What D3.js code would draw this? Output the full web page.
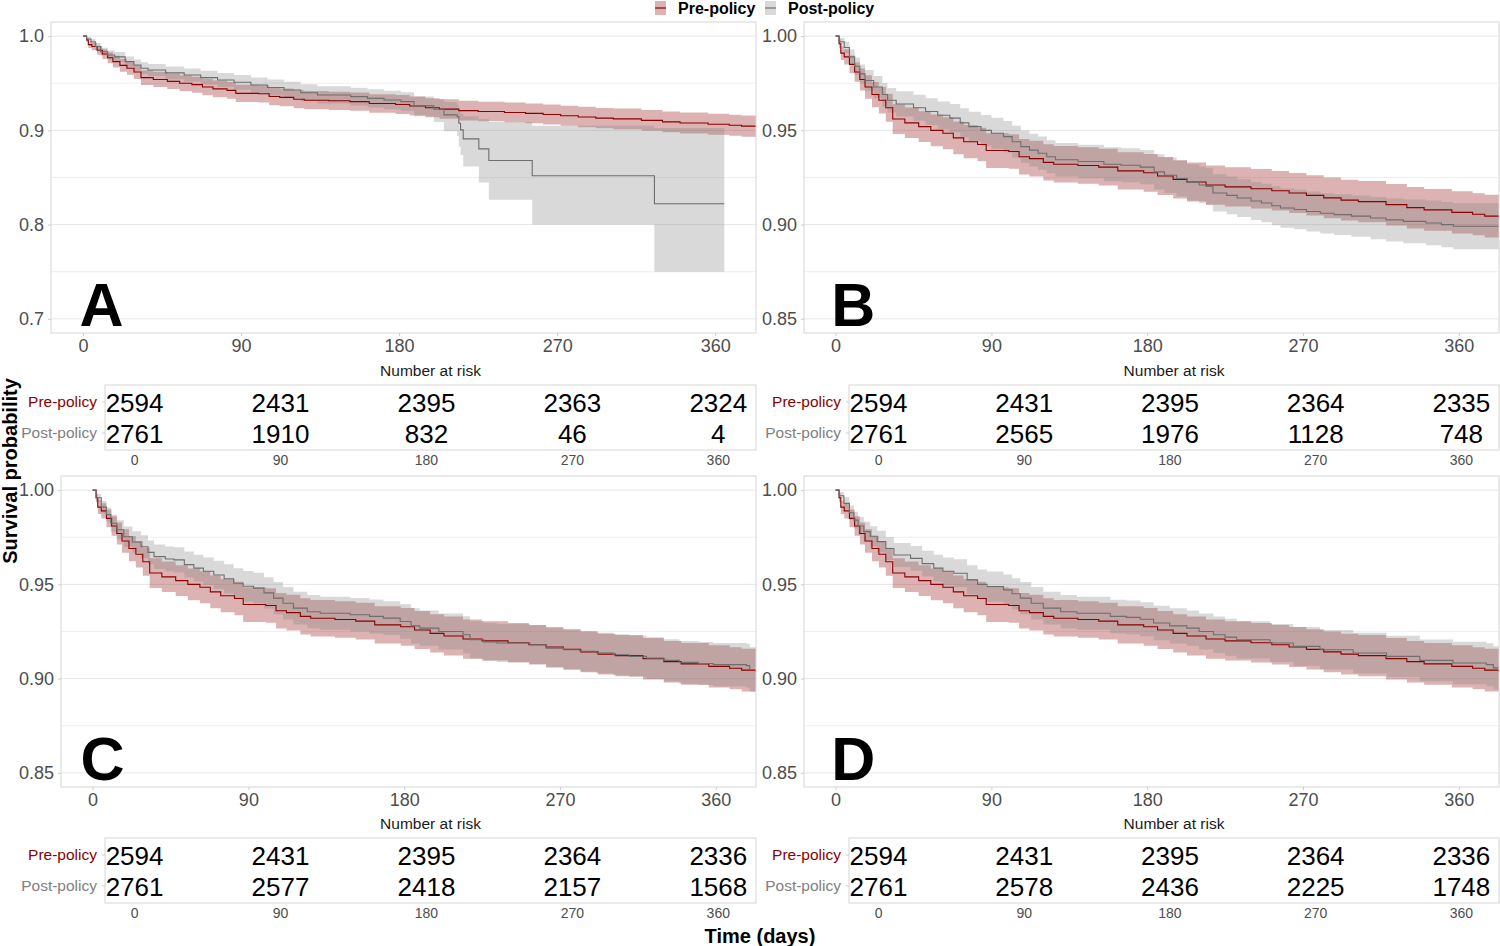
<!DOCTYPE html>
<html><head><meta charset="utf-8">
<script src="https://cdn.jsdelivr.net/npm/d3@7"></script>
<style>
body{margin:0;background:#fff}
svg{display:block}
text{font-family:"Liberation Sans",Arial,Helvetica,sans-serif}
</style>
</head><body>
<svg id="chart" width="1500" height="946"></svg>
<script>
// ---------------- DATA ----------------
const groups = ["Pre-policy", "Post-policy"];
const panelLetters = ["A", "B", "C", "D"];
const timeTicks = [0, 90, 180, 270, 360];
const yTicksA = [0.7, 0.8, 0.9, 1.0];
const yTicksBCD = [0.85, 0.90, 0.95, 1.00];

// Pre-policy KM estimate (identical cohort in all four panels)
const preDays  = [0,2,3,5,8,11,14,17,21,25,29,33,40,48,55,62,68,74,82,87,100,106,112,120,126,140,152,163,178,186,195,203,214,225,240,252,262,272,282,292,302,318,330,340,356,368,375,383.25];
const preSurv  = [1,0.996,0.991,0.989,0.985,0.981,0.977,0.973,0.969,0.966,0.962,0.956,0.954,0.952,0.950,0.9485,0.946,0.944,0.9425,0.9393,0.9388,0.936,0.935,0.933,0.932,0.9314,0.9305,0.9285,0.9275,0.9258,0.924,0.9226,0.921,0.920,0.919,0.918,0.9168,0.9155,0.9142,0.913,0.9122,0.9106,0.909,0.9078,0.9065,0.9055,0.9045,0.9035];
const preLower = [1,0.9936,0.9874,0.985,0.9803,0.9758,0.9712,0.9668,0.9623,0.959,0.9546,0.9481,0.9459,0.9438,0.9416,0.940,0.9373,0.9352,0.9336,0.9301,0.9296,0.9266,0.9255,0.9234,0.9223,0.9217,0.9207,0.9186,0.9175,0.9157,0.9138,0.9123,0.9106,0.9096,0.9085,0.9075,0.9062,0.9048,0.9034,0.9022,0.9013,0.8996,0.898,0.8967,0.8953,0.8943,0.8932,0.8922];
const preUpper = [1,0.9984,0.9946,0.993,0.9897,0.9862,0.9828,0.9792,0.9757,0.973,0.9694,0.9639,0.9621,0.9602,0.9584,0.957,0.9547,0.9528,0.9514,0.9485,0.948,0.9454,0.9445,0.9426,0.9417,0.9411,0.9403,0.9384,0.9375,0.9359,0.9342,0.9329,0.9314,0.9304,0.9295,0.9285,0.9274,0.9262,0.925,0.9238,0.9231,0.9216,0.920,0.9189,0.9177,0.9167,0.9158,0.9148];

// Post-policy, panel A
const postADays  = [0,2,4.5,7,10,14,18,24,29,33,37,47,57.6,67,76.6,86,95.6,105,114.5,124,133.5,152.4,162,171.4,181,188.5,199.8,205.5,213.1,214,215,216.5,225.4,231.1,255.8,325.4,365.2];
const postASurv  = [1,0.997,0.994,0.989,0.9834,0.980,0.978,0.973,0.9693,0.966,0.964,0.961,0.9587,0.956,0.9534,0.951,0.9481,0.9455,0.9429,0.940,0.9376,0.9358,0.934,0.9323,0.9305,0.926,0.9224,0.9164,0.9146,0.9076,0.9005,0.891,0.8804,0.868,0.8519,0.8222,0.8222];
const postALower = [1,0.995,0.991,0.9852,0.9792,0.9752,0.9728,0.9675,0.9635,0.9598,0.9576,0.9543,0.9518,0.9488,0.9459,0.9432,0.940,0.9371,0.9342,0.931,0.9284,0.9264,0.9244,0.9225,0.9205,0.915,0.909,0.899,0.894,0.883,0.874,0.8617,0.8448,0.8265,0.800,0.750,0.750];
const postAUpper = [1,0.999,0.997,0.9928,0.9876,0.9848,0.9832,0.9785,0.9751,0.9722,0.9704,0.9677,0.9656,0.9632,0.9609,0.9588,0.9562,0.9539,0.9516,0.949,0.9468,0.9452,0.9436,0.9421,0.9405,0.936,0.933,0.930,0.927,0.922,0.918,0.915,0.912,0.909,0.905,0.9025,0.9025];

// Post-policy, panel B
const postBDays  = [0,2,5,8,11,14,17,22,27,30,35,45,52,59,66,72,77,84,90,97,102,107,112,117,122,127,140,155,165,176,184,190,197,203,210,214,218,226,232,240,246,252,257,265,272,280,288,298,309,318,328,341,350,357,383.25];
const postBSurv  = [1,0.997,0.994,0.989,0.984,0.980,0.9765,0.973,0.969,0.966,0.964,0.962,0.960,0.958,0.9565,0.954,0.952,0.950,0.9485,0.9467,0.944,0.9414,0.9395,0.9379,0.936,0.9344,0.9335,0.932,0.9315,0.9305,0.928,0.9262,0.9245,0.9224,0.921,0.9203,0.9168,0.9155,0.9141,0.9125,0.9115,0.910,0.9088,0.908,0.907,0.906,0.9053,0.9045,0.9035,0.9025,0.9017,0.9009,0.900,0.8991,0.899];
const postBLower = [1,0.995,0.991,0.9851,0.9794,0.975,0.971,0.9672,0.9628,0.9595,0.9573,0.9551,0.9529,0.9507,0.949,0.9463,0.9441,0.9419,0.9403,0.9384,0.9355,0.9328,0.9308,0.9291,0.9272,0.9255,0.9246,0.923,0.9225,0.9214,0.9187,0.9168,0.915,0.9128,0.9113,0.9105,0.9069,0.9055,0.9041,0.9024,0.9013,0.8997,0.8984,0.8975,0.8964,0.8953,0.8945,0.8935,0.8923,0.8911,0.8901,0.889,0.888,0.8869,0.8868];
const postBUpper = [1,0.999,0.997,0.9929,0.9886,0.985,0.982,0.9788,0.9752,0.9725,0.9707,0.9689,0.9671,0.9653,0.964,0.9617,0.9599,0.9581,0.9567,0.955,0.9525,0.950,0.9482,0.9467,0.9448,0.9433,0.9424,0.941,0.9405,0.9396,0.9373,0.9356,0.934,0.932,0.9307,0.9301,0.9267,0.9255,0.9241,0.9226,0.9217,0.9203,0.9192,0.9185,0.9176,0.9167,0.9161,0.9155,0.9147,0.9139,0.9133,0.9128,0.912,0.9113,0.9112];

// Post-policy, panel C
const postCDays  = [0,2,5,8,10.5,14,18,23,28,32,35.5,42,47,53,58.5,64,70,76,81.5,87,93,99,104.6,110,116,124,131.5,148.8,160,168,177.7,184,189,200,214,218,226,233.5,252.7,262,272,281.5,291,300.8,310,320,330,339,350,358.5,377.7,379.6,383.25];
const postCSurv  = [1,0.996,0.991,0.987,0.9824,0.979,0.9753,0.9725,0.970,0.967,0.9647,0.9635,0.963,0.9605,0.9586,0.957,0.955,0.953,0.9506,0.949,0.948,0.9455,0.9427,0.940,0.9374,0.9355,0.9347,0.9339,0.933,0.9321,0.9303,0.928,0.9268,0.925,0.9233,0.9206,0.9195,0.9189,0.918,0.9162,0.9153,0.9145,0.9136,0.9127,0.9118,0.9109,0.9097,0.9086,0.908,0.9074,0.9069,0.9048,0.9048];
const postCLower = [1,0.994,0.9877,0.9832,0.9779,0.974,0.9699,0.9668,0.964,0.9607,0.9582,0.9569,0.9563,0.9536,0.9515,0.9497,0.9475,0.9453,0.9427,0.9409,0.9398,0.9372,0.9342,0.9314,0.9287,0.9267,0.9259,0.925,0.924,0.9231,0.9212,0.9187,0.9174,0.9154,0.9135,0.9107,0.9095,0.9088,0.9077,0.9057,0.9047,0.9038,0.9028,0.9018,0.9008,0.8998,0.8985,0.8973,0.8966,0.8959,0.8953,0.893,0.893];
const postCUpper = [1,0.998,0.9943,0.9908,0.9869,0.984,0.9807,0.9782,0.976,0.9733,0.9712,0.9701,0.9697,0.9674,0.9657,0.9643,0.9625,0.9607,0.9585,0.9571,0.9562,0.9538,0.9512,0.9486,0.9461,0.9443,0.9435,0.9428,0.942,0.9411,0.9394,0.9373,0.9362,0.9346,0.9331,0.9305,0.9295,0.929,0.9283,0.9267,0.9259,0.9252,0.9244,0.9236,0.9228,0.922,0.9209,0.9199,0.9194,0.9189,0.9185,0.9166,0.9166];

// Post-policy, panel D
const postDDays  = [0,2,4.8,8,10.6,13,16.3,20,24,29,33.7,43.3,50,56.7,62,68.3,76,82,87.5,97,102,106.7,113,120,130,139.4,158.7,168,176,183.7,193,202.9,210,218.3,225,231.7,251,264.4,279.8,299,318.3,337.5,356.7,376,380,383.25];
const postDSurv  = [1,0.997,0.993,0.988,0.9841,0.981,0.978,0.9755,0.9727,0.969,0.9656,0.9638,0.961,0.9586,0.957,0.9559,0.9524,0.950,0.9488,0.9471,0.945,0.9427,0.940,0.9374,0.9355,0.9347,0.933,0.9325,0.9315,0.9295,0.928,0.9268,0.925,0.9233,0.922,0.9206,0.9189,0.9171,0.9153,0.9136,0.9118,0.9097,0.9083,0.9074,0.9057,0.9057];
const postDLower = [1,0.995,0.9898,0.9842,0.9797,0.9762,0.9728,0.9701,0.967,0.9629,0.9592,0.9572,0.9542,0.9515,0.9497,0.9485,0.9447,0.9421,0.9408,0.9389,0.9367,0.9342,0.9314,0.9287,0.9267,0.9259,0.9241,0.9235,0.9225,0.9203,0.9187,0.9174,0.9154,0.9136,0.9122,0.9107,0.9088,0.9068,0.9048,0.9029,0.9009,0.8986,0.897,0.896,0.8942,0.8942];
const postDUpper = [1,0.999,0.9962,0.9918,0.9885,0.9858,0.9832,0.9809,0.9784,0.9751,0.972,0.9704,0.9678,0.9657,0.9643,0.9633,0.9601,0.9579,0.9568,0.9553,0.9533,0.9512,0.9486,0.9461,0.9443,0.9435,0.9419,0.9415,0.9405,0.9387,0.9373,0.9362,0.9346,0.933,0.9318,0.9305,0.929,0.9274,0.9258,0.9243,0.9227,0.9208,0.9196,0.9188,0.9172,0.9172];

// Number at risk tables
const riskPreA  = [2594, 2431, 2395, 2363, 2324];
const riskPostA = [2761, 1910, 832, 46, 4];
const riskPreB  = [2594, 2431, 2395, 2364, 2335];
const riskPostB = [2761, 2565, 1976, 1128, 748];
const riskPreC  = [2594, 2431, 2395, 2364, 2336];
const riskPostC = [2761, 2577, 2418, 2157, 1568];
const riskPreD  = [2594, 2431, 2395, 2364, 2336];
const riskPostD = [2761, 2578, 2436, 2225, 1748];

// ---------------- STYLE / LAYOUT ----------------
const preColor = "#8B0000", postColor = "#808080";
const preLine = "#8B0000", postLine = "#6E6E6E";
const bandOpacity = 0.3;
const xDomain = [-18.25, 383.25];

function series(days, surv, lo, hi) {
  return days.map((d, i) => ({t: d, s: surv[i], lo: lo[i], hi: hi[i]}));
}
const preSeries = series(preDays, preSurv, preLower, preUpper);

const panels = [
  {letter: panelLetters[0], x0: 51, x1: 756, y0: 22, y1: 333, yDomain: [0.685, 1.015], yTicks: yTicksA, fmt: ".1f",
   post: series(postADays, postASurv, postALower, postAUpper), riskPre: riskPreA, riskPost: riskPostA,
   table: {x0: 105, x1: 756, y0: 385, y1: 450}, letterDay: -2},
  {letter: panelLetters[1], x0: 804, x1: 1499, y0: 22, y1: 333, yDomain: [0.8425, 1.0075], yTicks: yTicksBCD, fmt: ".2f",
   post: series(postBDays, postBSurv, postBLower, postBUpper), riskPre: riskPreB, riskPost: riskPostB,
   table: {x0: 849, x1: 1499, y0: 385, y1: 450}, letterDay: -2.5},
  {letter: panelLetters[2], x0: 61, x1: 756, y0: 476, y1: 787, yDomain: [0.8425, 1.0075], yTicks: yTicksBCD, fmt: ".2f",
   post: series(postCDays, postCSurv, postCLower, postCUpper), riskPre: riskPreC, riskPost: riskPostC,
   table: {x0: 105, x1: 756, y0: 838, y1: 903}, letterDay: -7},
  {letter: panelLetters[3], x0: 804, x1: 1499, y0: 476, y1: 787, yDomain: [0.8425, 1.0075], yTicks: yTicksBCD, fmt: ".2f",
   post: series(postDDays, postDSurv, postDLower, postDUpper), riskPre: riskPreD, riskPost: riskPostD,
   table: {x0: 849, x1: 1499, y0: 838, y1: 903}, letterDay: -2.5}
];

const svg = d3.select("#chart");

panels.forEach((p, pi) => {
  const x = d3.scaleLinear().domain(xDomain).range([p.x0, p.x1]);
  const y = d3.scaleLinear().domain(p.yDomain).range([p.y1, p.y0]);
  const g = svg.append("g");

  const clipId = "clip" + pi;
  g.append("clipPath").attr("id", clipId).append("rect")
    .attr("x", p.x0).attr("y", p.y0).attr("width", p.x1 - p.x0).attr("height", p.y1 - p.y0);

  // gridlines (major + minor)
  const minor = d3.pairs(p.yTicks).map(([a, b]) => (a + b) / 2);
  g.selectAll(".minor").data(minor).join("line")
    .attr("x1", p.x0).attr("x2", p.x1).attr("y1", d => y(d)).attr("y2", d => y(d))
    .attr("stroke", "#EFEFEF").attr("stroke-width", 1);
  g.selectAll(".major").data(p.yTicks).join("line")
    .attr("x1", p.x0).attr("x2", p.x1).attr("y1", d => y(d)).attr("y2", d => y(d))
    .attr("stroke", "#E6E6E6").attr("stroke-width", 1);

  const area = d3.area().curve(d3.curveStepAfter)
    .x(d => x(d.t)).y0(d => y(d.lo)).y1(d => y(d.hi));
  const line = d3.line().curve(d3.curveStepAfter)
    .x(d => x(d.t)).y(d => y(d.s));

  const plot = g.append("g").attr("clip-path", `url(#${clipId})`);
  plot.append("path").datum(preSeries).attr("d", area)
    .attr("fill", preColor).attr("fill-opacity", bandOpacity);
  plot.append("path").datum(p.post).attr("d", area)
    .attr("fill", postColor).attr("fill-opacity", bandOpacity);
  plot.append("path").datum(preSeries).attr("d", line)
    .attr("fill", "none").attr("stroke", preLine).attr("stroke-width", 1.1);
  plot.append("path").datum(p.post).attr("d", line)
    .attr("fill", "none").attr("stroke", postLine).attr("stroke-width", 1.1);

  // border
  g.append("rect").attr("x", p.x0).attr("y", p.y0)
    .attr("width", p.x1 - p.x0).attr("height", p.y1 - p.y0)
    .attr("fill", "none").attr("stroke", "#D6D6D6").attr("stroke-width", 1);

  // axes
  const yAxis = d3.axisLeft(y).tickValues(p.yTicks).tickFormat(d3.format(p.fmt))
    .tickSizeInner(3).tickSizeOuter(0).tickPadding(4);
  const ya = g.append("g").attr("transform", `translate(${p.x0},0)`).call(yAxis);
  ya.select(".domain").remove();
  ya.selectAll("line").attr("stroke", "#CCCCCC");
  ya.selectAll("text").attr("font-size", 18).attr("fill", "#4D4D4D")
    .attr("font-family", "'Liberation Sans',Arial,sans-serif");

  const xAxis = d3.axisBottom(x).tickValues(timeTicks).tickFormat(d3.format("d"))
    .tickSizeInner(3).tickSizeOuter(0).tickPadding(3);
  const xa = g.append("g").attr("transform", `translate(0,${p.y1})`).call(xAxis);
  xa.select(".domain").remove();
  xa.selectAll("line").attr("stroke", "#CCCCCC");
  xa.selectAll("text").attr("font-size", 18).attr("fill", "#4D4D4D")
    .attr("font-family", "'Liberation Sans',Arial,sans-serif");

  // panel letter
  g.append("text").attr("x", x(p.letterDay)).attr("y", p.y1 - 7)
    .attr("font-size", 61).attr("font-weight", "bold").attr("fill", "#000")
    .text(p.letter);

  // ---- risk table ----
  const t = p.table;
  const tx = d3.scaleLinear().domain(xDomain).range([t.x0, t.x1]);
  const ty = d3.scaleBand().domain(groups).range([t.y0, t.y1]).paddingOuter(0.05);
  g.append("text").attr("x", (t.x0 + t.x1) / 2).attr("y", t.y0 - 9)
    .attr("text-anchor", "middle").attr("font-size", 15.5).attr("fill", "#1a1a1a")
    .text("Number at risk");
  g.append("rect").attr("x", t.x0).attr("y", t.y0)
    .attr("width", t.x1 - t.x0).attr("height", t.y1 - t.y0)
    .attr("fill", "none").attr("stroke", "#D6D6D6").attr("stroke-width", 1);

  const rows = [
    {grp: groups[0], vals: p.riskPre, col: "#8B0000"},
    {grp: groups[1], vals: p.riskPost, col: "#808080"}
  ];
  rows.forEach(r => {
    const cy = ty(r.grp) + ty.bandwidth() / 2;
    g.append("text").attr("x", t.x0 - 8).attr("y", cy).attr("dy", "0.35em")
      .attr("text-anchor", "end").attr("font-size", 15.5).attr("fill", r.col).text(r.grp);
    g.append("line").attr("x1", t.x0 - 3).attr("x2", t.x0).attr("y1", cy).attr("y2", cy)
      .attr("stroke", "#CCCCCC");
    g.selectAll(null).data(r.vals).join("text")
      .attr("x", (d, i) => tx(timeTicks[i])).attr("y", cy + 1).attr("dy", "0.36em")
      .attr("text-anchor", "middle").attr("font-size", 26).attr("fill", "#000")
      .text(d => d);
  });
  g.selectAll(null).data(timeTicks).join("text")
    .attr("x", d => tx(d)).attr("y", t.y1 + 15)
    .attr("text-anchor", "middle").attr("font-size", 14).attr("fill", "#4D4D4D")
    .text(d => d);
});

// global axis titles
svg.append("text").attr("transform", "translate(17,471) rotate(-90)")
  .attr("text-anchor", "middle").attr("font-size", 20).attr("font-weight", "bold")
  .text("Survival probability");
svg.append("text").attr("x", 760).attr("y", 943)
  .attr("text-anchor", "middle").attr("font-size", 20).attr("font-weight", "bold")
  .text("Time (days)");

// legend
const legend = [
  {name: groups[0], fill: preColor, line: preLine, kx: 655, tx: 678},
  {name: groups[1], fill: postColor, line: postLine, kx: 765, tx: 788}
];
legend.forEach(l => {
  svg.append("rect").attr("x", l.kx).attr("y", 1).attr("width", 11).attr("height", 14)
    .attr("fill", l.fill).attr("fill-opacity", bandOpacity);
  svg.append("line").attr("x1", l.kx).attr("x2", l.kx + 11).attr("y1", 8).attr("y2", 8)
    .attr("stroke", l.line).attr("stroke-width", 1.2);
  svg.append("text").attr("x", l.tx).attr("y", 14).attr("font-size", 16)
    .attr("font-weight", "bold").attr("fill", "#000").text(l.name);
});
</script>
</body></html>
